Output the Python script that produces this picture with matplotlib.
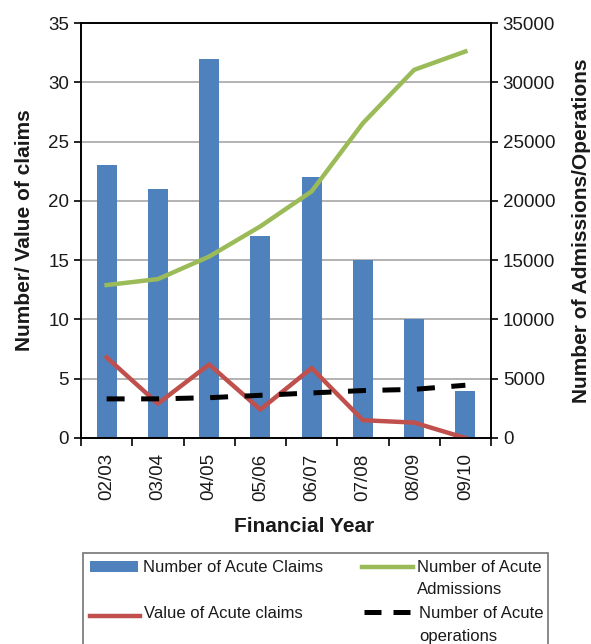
import matplotlib
matplotlib.use("Agg")
import matplotlib.pyplot as plt
import numpy as np
from matplotlib.lines import Line2D
from matplotlib.patches import Rectangle

years = ["02/03", "03/04", "04/05", "05/06", "06/07", "07/08", "08/09", "09/10"]
acute_claims = [23, 21, 32, 17, 22, 15, 10, 4]
claims_value = [6.8, 2.9, 6.2, 2.4, 5.9, 1.5, 1.3, 0.0]
admissions = [12900, 13400, 15300, 17850, 20800, 26550, 31050, 32600]
operations = [3300, 3300, 3400, 3600, 3800, 4000, 4100, 4450]

plt.rcParams['font.family'] = ['Liberation Sans', 'DejaVu Sans']
TXT = "#1a1a1a"
BLUE, RED, GREEN = "#4f81bd", "#c0504d", "#9bbb59"
DASH = (3.6, 3.3)

W, H = 591, 644
fig = plt.figure(figsize=(W/100, H/100), dpi=100)
ax = fig.add_axes([81/W, 1-438/H, 410/W, 415/H])
x = np.arange(len(years))

ax.bar(x, acute_claims, width=0.39, color=BLUE, zorder=2)
ax.plot(x, claims_value, color=RED, lw=3.2, zorder=4)
ax.set_ylim(0, 35)
ax.set_yticks(range(0, 36, 5))
ax.set_xlim(-0.5, len(years) - 0.5)
ax.yaxis.grid(True, color="#a6a6a6", lw=1.2, zorder=0)
ax.set_axisbelow(True)
ax.set_xticks(x)
ax.set_xticklabels(years, rotation=90, fontsize=13.5, color=TXT)
ax.tick_params(axis='x', length=0, pad=11)
ax.set_xticks(np.arange(-0.5, len(years)), minor=True)
ax.tick_params(axis='x', which='minor', length=6, width=1.2, direction='out')
ax.tick_params(axis='y', labelsize=13.5, labelcolor=TXT, length=5, width=1.2, direction='out')
ax.set_ylabel("Number/ Value of claims", fontsize=15, fontweight='bold', labelpad=10, color=TXT)
ax.set_xlabel("Financial Year", fontsize=15, fontweight='bold', color=TXT, va='center')
ax.xaxis.set_label_coords((304 - 81) / 410, (438 - 527) / 415)
for s in ax.spines.values():
    s.set_linewidth(1.2)

ax2 = ax.twinx()
ax2.plot(x, admissions, color=GREEN, lw=3.2, zorder=3)
ax2.plot(x, operations, color="black", lw=3.6, dashes=DASH, zorder=3)
ax2.set_ylim(0, 35000)
ax2.set_yticks(range(0, 35001, 5000))
ax2.tick_params(axis='y', labelsize=13.5, labelcolor=TXT, length=5, width=1.2, direction='out')
ax2.set_ylabel("Number of Admissions/Operations", fontsize=15, fontweight='bold', labelpad=12, color=TXT)
for s in ax2.spines.values():
    s.set_linewidth(1.2)

# manual legend (figure pixel coordinates, origin top-left)
def fx(px):
    return px / W
def fy(py):
    return 1 - py / H

fig.add_artist(Rectangle((fx(83), fy(660)), fx(548) - fx(83), fy(553) - fy(660),
                         transform=fig.transFigure, fill=False,
                         edgecolor="#7f7f7f", lw=1.3))
fig.add_artist(Rectangle((fx(90), fy(572)), fx(138) - fx(90), fy(561) - fy(572),
                         transform=fig.transFigure, facecolor=BLUE, edgecolor='none'))
fig.add_artist(Line2D([fx(90), fx(140)], [fy(615.5)] * 2, transform=fig.transFigure,
                      color=RED, lw=3.2))
fig.add_artist(Line2D([fx(362), fx(413)], [fy(567)] * 2, transform=fig.transFigure,
                      color=GREEN, lw=3.2))
fig.add_artist(Line2D([fx(364), fx(410)], [fy(612)] * 2, transform=fig.transFigure,
                      color="black", lw=3.6, dashes=(3.4, 2.4)))
fs = 12
fig.text(fx(143), fy(567), "Number of Acute Claims", fontsize=fs, color=TXT, va='center')
fig.text(fx(144), fy(614), "Value of Acute claims", fontsize=fs, color=TXT, va='center')
fig.text(fx(417), fy(567), "Number of Acute", fontsize=fs, color=TXT, va='center')
fig.text(fx(417), fy(590), "Admissions", fontsize=fs, color=TXT, va='center')
fig.text(fx(419), fy(613), "Number of Acute", fontsize=fs, color=TXT, va='center')
fig.text(fx(419), fy(636), "operations", fontsize=fs, color=TXT, va='center')

fig.savefig("out.png", dpi=100)
